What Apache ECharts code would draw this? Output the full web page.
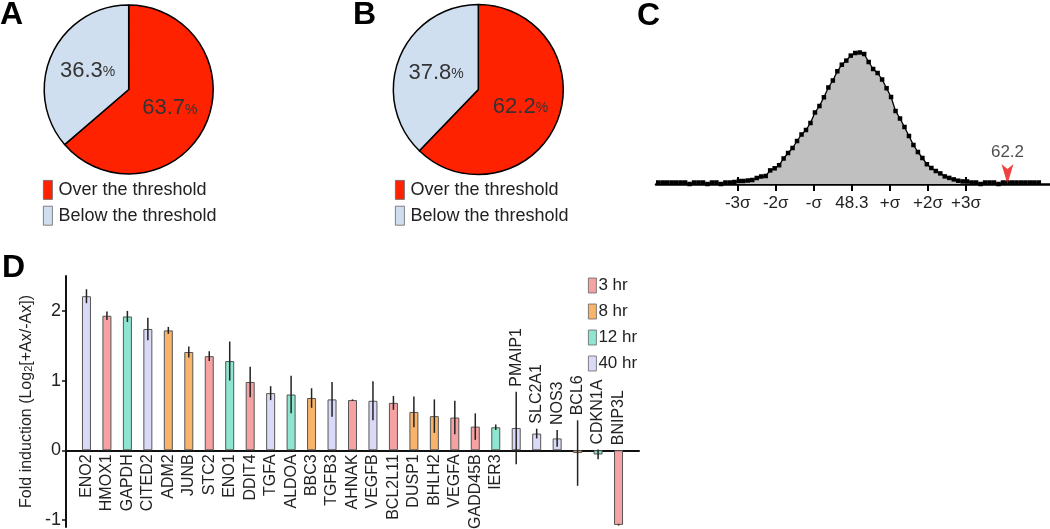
<!DOCTYPE html>
<html>
<head>
<meta charset="utf-8">
<script src="https://cdn.jsdelivr.net/npm/echarts@6/dist/echarts.min.js"></script>
<style>
html,body{margin:0;padding:0;background:#fff;}
#chart{width:1050px;height:529px;}
</style>
</head>
<body>
<div id="chart"></div>
<script>
// ---------- DATA ----------
const pieCategories = ['Over the threshold', 'Below the threshold'];
const pieAValues = [63.7, 36.3];
const pieBValues = [62.2, 37.8];

const distX = [31.0,31.4,31.8,32.2,32.6,33.0,33.4,33.8,34.2,34.6,35.0,35.4,35.8,36.2,36.6,37.0,37.4,37.8,38.2,38.6,
  39.0,39.4,39.8,40.2,40.6,41.0,41.4,41.8,42.2,42.6,43.0,43.4,43.8,44.2,44.6,45.0,45.4,45.8,46.2,46.6,
  47.0,47.4,47.8,48.2,48.6,49.0,49.4,49.8,50.2,50.6,51.0,51.4,51.8,52.2,52.6,53.0,53.4,53.8,54.2,54.6,
  55.0,55.4,55.8,56.2,56.6,57.0,57.4,57.8,58.2,58.6,59.0,59.4,59.8,60.2,60.6,61.0,61.4,61.8,62.2,62.6,
  63.0,63.4,63.8,64.2,64.6,65.0];
const distY = [1.5,1.5,1.5,1.5,1.5,1.5,1.5,0,1.5,1.5,1.5,0,1.5,1.5,0,1.5,1.5,2,3,3,
  3.5,4,6,7.5,8,13.6,15.7,18.8,25.5,31,36,43,49.5,54,61,71.5,78,86.7,96.5,103.5,
  112.7,119.3,123.4,128.4,131,131.5,130,122,115,111,104.5,95.8,87,73,65.5,57,48,39,32,26,
  19.8,16,13,10.6,7.6,6.1,4.6,3.3,2.6,2.5,1.5,1.5,0,1.5,1.5,1.5,0,1.5,1.5,1.5,
  1.5,1.5,1.5,1.5,1.5,1.5];
const sigmaTickValues = [38.1, 41.5, 44.9, 48.3, 51.7, 55.1, 58.5];
const sigmaTickLabels = ['-3σ', '-2σ', '-σ', '48.3', '+σ', '+2σ', '+3σ'];
const observedValue = 62.2;

const genes = ['ENO2','HMOX1','GAPDH','CITED2','ADM2','JUNB','STC2','ENO1','DDIT4','TGFA','ALDOA','BBC3','TGFB3','AHNAK',
  'VEGFB','BCL2L11','DUSP1','BHLH2','VEGFA','GADD45B','IER3','PMAIP1','SLC2A1','NOS3','BCL6','CDKN1A','BNIP3L'];
const foldValues = [2.21,1.93,1.92,1.74,1.72,1.41,1.35,1.28,0.98,0.82,0.80,0.75,0.73,0.72,
  0.71,0.68,0.55,0.49,0.47,0.34,0.33,0.32,0.24,0.17,-0.04,-0.06,-1.07];
const foldErrors = [0.10,0.06,0.08,0.16,0.05,0.08,0.07,0.28,0.22,0.10,0.27,0.14,0.25,0.01,
  0.28,0.10,0.22,0.24,0.24,0.19,0.04,0.52,0.07,0.12,0.47,0.07,0.01];
const timePoints = ['3 hr', '8 hr', '12 hr', '40 hr'];
const geneTime = ['40 hr','3 hr','12 hr','40 hr','8 hr','8 hr','3 hr','12 hr','3 hr','40 hr','12 hr','8 hr','40 hr','3 hr',
  '40 hr','3 hr','8 hr','8 hr','3 hr','3 hr','12 hr','40 hr','40 hr','40 hr','8 hr','12 hr','3 hr'];
const yTickValues = [-1, 0, 1, 2];

// ---------- STYLE ----------
const FONT = "'Liberation Sans', Arial, Helvetica, sans-serif";
const pieColors = ['#ff2200', '#d0dff0'];
const timeColors = {'3 hr': '#f6a2a2', '8 hr': '#f9b46c', '12 hr': '#8ee6d0', '40 hr': '#dadaf8'};
const LABEL_ABOVE_FROM = 21;

const chart = echarts.init(document.getElementById('chart'), null, {renderer: 'canvas'});

function pieSeries(center, radius, values) {
  return {
    type: 'pie', center: center, radius: radius, silent: true,
    startAngle: 90, clockwise: true,
    data: pieCategories.map((n, i) => ({name: n, value: values[i], itemStyle: {color: pieColors[i]}})),
    itemStyle: {borderColor: '#000', borderWidth: 1.5},
    label: {
      show: true, position: 'inside',
      formatter: p => '{v|' + p.value.toFixed(1) + '}{p|%}',
      rich: {
        v: {fontSize: 22, color: '#333', fontFamily: FONT, verticalAlign: 'bottom'},
        p: {fontSize: 14, color: '#333', fontFamily: FONT, verticalAlign: 'bottom', padding: [0, 0, 2, 0]}
      }
    },
    labelLine: {show: false},
    emphasis: {disabled: true}
  };
}

function legendBox(left, top, names, w, h, gap, fs) {
  return {
    left: left, top: top, orient: 'vertical', data: names, padding: 0,
    itemWidth: w, itemHeight: h, itemGap: gap, selectedMode: false,
    icon: 'rect',
    itemStyle: {borderColor: '#666', borderWidth: 0.8},
    textStyle: {fontSize: fs, color: '#222', fontFamily: FONT, padding: [0, 0, 0, 1]}
  };
}

const letterStyle = t => ({text: t, fontSize: 32, fontWeight: 'bold', fontFamily: FONT, fill: '#000'});

const option = {
  animation: false,
  textStyle: {fontFamily: FONT},
  graphic: [
    {type: 'text', left: 0, top: -1, style: letterStyle('A')},
    {type: 'text', left: 353, top: -1, style: letterStyle('B')},
    {type: 'text', left: 637, top: 0, style: letterStyle('C')},
    {type: 'text', left: 2, top: 252, style: letterStyle('D')}
  ],
  legend: [
    legendBox(43, 180, pieCategories, 9, 19, 6, 18),
    legendBox(395, 180, pieCategories, 9, 19, 6, 18),
    Object.assign(legendBox(588, 277, timePoints, 8, 15, 9, 17), {
      textStyle: {fontSize: 17, color: '#222', fontFamily: FONT, lineHeight: 15, padding: [0, 0, 0, -3]}
    })
  ],
  grid: [
    {left: 66, top: 276, width: 573, height: 252},
    {left: 656, top: 44, width: 394, height: 140}
  ],
  xAxis: [
    {gridIndex: 0, type: 'value', min: -1, max: 27,
     axisLine: {onZero: true, lineStyle: {color: '#111', width: 2}},
     axisTick: {show: false}, axisLabel: {show: false}, splitLine: {show: false}},
    {gridIndex: 1, type: 'value', min: 30.8, max: 66, position: 'bottom',
     axisLine: {lineStyle: {color: '#000', width: 2.5}},
     axisTick: {show: true, customValues: sigmaTickValues, length: 7, lineStyle: {color: '#000', width: 2}},
     axisLabel: {show: true, customValues: sigmaTickValues,
       formatter: v => { const k = sigmaTickValues.findIndex(t => Math.abs(t - v) < 1e-6); return k >= 0 ? sigmaTickLabels[k] : ''; },
       fontSize: 17, color: '#222', margin: 11, fontFamily: FONT},
     splitLine: {show: false}},
    {gridIndex: 1, type: 'value', min: 30.8, max: 66, position: 'bottom',
     axisLine: {show: false},
     axisTick: {show: true, inside: true, customValues: sigmaTickValues, length: 7, lineStyle: {color: '#000', width: 2}},
     axisLabel: {show: false}, splitLine: {show: false}}
  ],
  yAxis: [
    {gridIndex: 0, type: 'value', min: -1.1, max: 2.5,
     axisLine: {show: true, onZero: false, lineStyle: {color: '#111', width: 2}},
     axisTick: {show: true, customValues: yTickValues, length: 4, lineStyle: {color: '#111', width: 1.5}},
     axisLabel: {customValues: yTickValues, fontSize: 18, color: '#222', margin: 5, fontFamily: FONT},
     splitLine: {show: false},
     name: '{n|Fold induction (Log}{s|2}{n|[+Ax/-Ax])}',
     nameLocation: 'middle', nameGap: 23,
     nameTextStyle: {rich: {
       n: {fontSize: 16, color: '#222', fontFamily: FONT, verticalAlign: 'bottom'},
       s: {fontSize: 11, color: '#222', fontFamily: FONT, verticalAlign: 'bottom'}
     }}},
    {gridIndex: 1, type: 'value', min: 0, max: 140, show: false}
  ],
  series: [
    pieSeries([128.7, 89.5], 84.5, pieAValues),
    pieSeries([478.3, 89.5], 85, pieBValues),
    ...timePoints.map(t => ({
      type: 'bar', name: t, xAxisIndex: 0, yAxisIndex: 0,
      barWidth: 9, barGap: '-100%', silent: true,
      data: genes.map((g, i) => geneTime[i] === t ? [i, foldValues[i]] : null).filter(d => d !== null),
      itemStyle: {color: timeColors[t], borderColor: '#555', borderWidth: 1}
    })),
    {
      type: 'custom', name: 'err', xAxisIndex: 0, yAxisIndex: 0, silent: true, z: 5,
      data: genes.map((g, i) => [i, foldValues[i] - foldErrors[i], foldValues[i] + foldErrors[i]]),
      encode: {x: 0, y: [1, 2]},
      renderItem: (params, api) => {
        const a = api.coord([api.value(0), api.value(1)]);
        const b = api.coord([api.value(0), api.value(2)]);
        return {type: 'line', shape: {x1: a[0], y1: a[1], x2: b[0], y2: b[1]},
                style: {stroke: '#222', lineWidth: 1.5}};
      }
    },
    {
      type: 'custom', name: 'genes', xAxisIndex: 0, yAxisIndex: 0, silent: true, z: 6,
      data: genes.map((g, i) => [i, foldValues[i], foldErrors[i]]),
      encode: {x: 0, y: 1},
      renderItem: (params, api) => {
        const i = params.dataIndex;
        const above = i >= LABEL_ABOVE_FROM;
        const anchor = above ? Math.max(0, api.value(1) + api.value(2)) : 0;
        const p = api.coord([api.value(0), anchor]);
        return {type: 'text', x: p[0], y: above ? p[1] - 5 : p[1] + 4, rotation: Math.PI / 2,
                style: {text: genes[i], font: "16px 'Liberation Sans', Arial, sans-serif",
                        fontSize: 16, fontFamily: FONT, fill: '#222',
                        align: above ? 'left' : 'right', textAlign: above ? 'left' : 'right',
                        verticalAlign: 'middle', textVerticalAlign: 'middle'}};
      }
    },
    {
      type: 'line', xAxisIndex: 1, yAxisIndex: 1, silent: true,
      data: distX.map((x, i) => [x, distY[i]]),
      symbol: 'rect', symbolSize: 4.5, showSymbol: true, showAllSymbol: true,
      itemStyle: {color: '#000'},
      lineStyle: {color: '#000', width: 1.3},
      areaStyle: {color: '#c0c0c0', opacity: 1}
    },
    {
      type: 'scatter', xAxisIndex: 1, yAxisIndex: 1, silent: true, z: 6,
      data: [[observedValue, 0]],
      symbol: 'path://M0,0 L6,5 L12,0 L6,20 Z', symbolSize: [12, 20], symbolOffset: [0, -10],
      itemStyle: {color: '#ee1111'},
      label: {show: true, position: 'top', distance: 3, formatter: String(observedValue),
              fontSize: 17, color: '#222', fontFamily: FONT}
    }
  ]
};
chart.setOption(option);
</script>
</body>
</html>
